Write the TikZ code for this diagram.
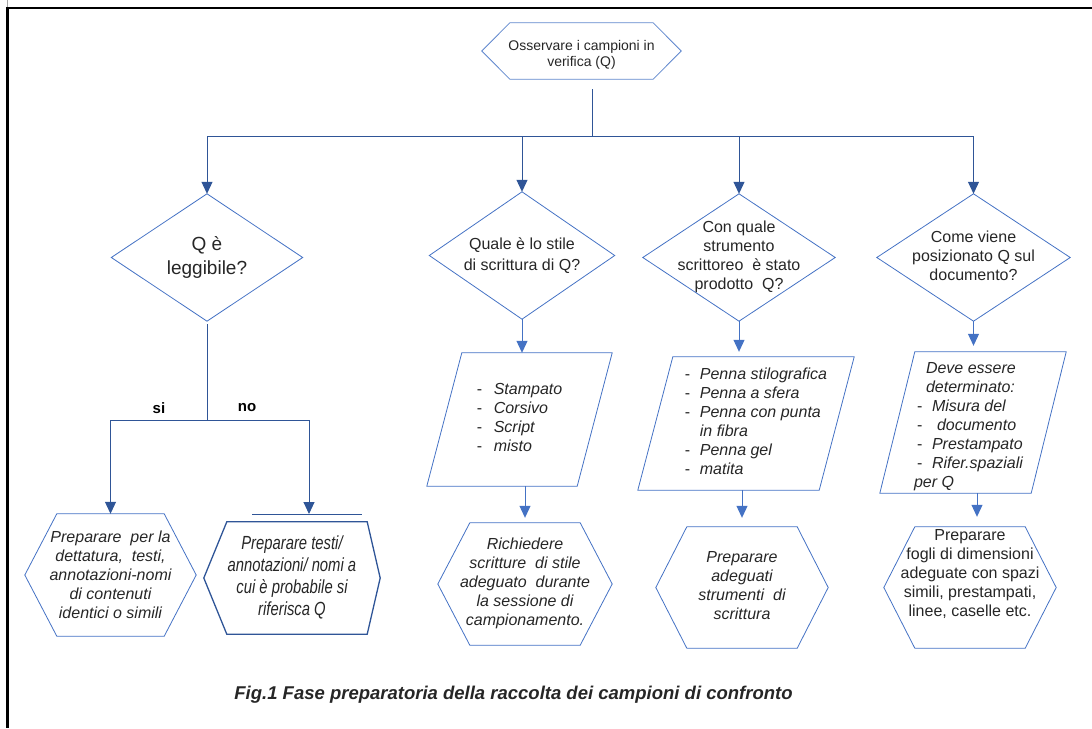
\documentclass[tikz,border=0pt]{standalone}
\usepackage{fontspec}
\setmainfont{Liberation Sans}
\newfontfamily\narrowfont[FakeStretch=0.78]{Liberation Sans}
\usetikzlibrary{arrows.meta}
\definecolor{lineblue}{HTML}{4472C4}
\definecolor{darkblue}{HTML}{2F5597}
\definecolor{ink}{HTML}{262626}
% multi-line text block, column alignment as optional argument
\newcommand\rows[2][c]{\begin{tabular}{@{}#1@{}}#2\end{tabular}}
% list entry introduced by a hyphen
\newcommand\dashitem[2][15pt]{\makebox[#1][l]{\upshape -}#2}

\begin{document}
\begin{tikzpicture}[x=1pt,y=-1pt,
  sz/.style 2 args={rectangle, inner sep=0pt, minimum width=#1, minimum height=#2, text=ink},
  qfont/.style={font=\fontsize{16}{19}\selectfont},
  ifont/.style={font=\fontsize{16}{19}\selectfont\itshape},
  outline/.style={draw=lineblue, line width=0.8pt, line join=miter},
  dkline/.style={draw=darkblue, line width=1pt},
  ltline/.style={draw=lineblue, line width=1pt},
  arr/.style={-{Triangle[width=11pt,length=12pt]}},
  yn/.style={font=\bfseries\fontsize{15}{18}\selectfont, text=black, inner sep=0pt}
]
\useasboundingbox (0,0) rectangle (1092,728);

% frame of the figure
\draw[line width=2.6pt] (6,8) -- (1092,8);
\draw[line width=3pt] (7,8) -- (7,728);
\draw[gray!70, line width=0.6pt] (7.5,0) -- (7.5,7);

% start
\node[sz={199pt}{56pt}, font=\fontsize{14}{16.5}\selectfont] (T) at (581.5,51)
  {\rows{\rule{0pt}{19.5pt}Osservare i campioni in\\verifica (Q)}};

% questions
\node[sz={191pt}{127pt}, font=\fontsize{19}{24}\selectfont] (D1) at (207,257.5)
  {\rows{Q è\\leggibile?}};
\node[sz={185pt}{127pt}, font=\fontsize{16}{21}\selectfont] (D2) at (522,255.5)
  {\rows{Quale è lo stile\\di scrittura di Q?}};
\node[sz={192pt}{127pt}, qfont] (D3) at (739,257.5)
  {\rows{Con quale\\strumento\\scrittoreo~ è stato\\prodotto~ Q?}};
\node[sz={193pt}{127pt}, qfont] (D4) at (973.5,257.5)
  {\rows{Come viene\\posizionato Q sul\\documento?}};

% answers
\node[sz={185pt}{133pt}, ifont] (P2) at (519.5,419.5)
  {\rows[l]{\dashitem[17pt]{Stampato}\\\dashitem[17pt]{Corsivo}\\\dashitem[17pt]{Script}\\\dashitem[17pt]{misto}}};
\node[sz={216pt}{133pt}, ifont] (P3) at (746,423.5)
  {\hspace*{20pt}\rows[l]{\dashitem{Penna stilografica}\\\dashitem{Penna a sfera}\\\dashitem{Penna con punta}\\\hspace*{15pt}in fibra\\\dashitem{Penna gel}\\\dashitem{matita}}};
\node[sz={186pt}{133pt}, ifont] (P4) at (973,422.5)
  {\rows[l]{\rule{0pt}{21.3pt}\hspace*{12pt}Deve essere\\\hspace*{12pt}determinato:\\\hspace*{3pt}\dashitem{Misura del}\\\hspace*{3pt}\dashitem[20pt]{documento}\\\hspace*{3pt}\dashitem{Prestampato}\\\hspace*{3pt}\dashitem{Rifer.spaziali}\\per Q}\hspace*{9pt}};

% preparations
\node[sz={171pt}{122pt}, ifont] (H1) at (110.5,575)
  {\rows{\rule{0pt}{17pt}Preparare~ per la\\dettatura,~ testi,\\annotazioni-nomi\\di contenuti\\identici o simili}};
\node[sz={176pt}{112pt}, font=\narrowfont\fontsize{19}{22}\selectfont\itshape] (H2) at (292,578)
  {\rows{Preparare testi/\\annotazioni/ nomi a\\cui è probabile si\\riferisca Q}};
\node[sz={174pt}{122pt}, ifont] (H3) at (525,584)
  {\rows{Richiedere\\scritture~ di stile\\adeguato~ durante\\la sessione di\\campionamento.}};
\node[sz={172pt}{121pt}, ifont] (H4) at (742,587.5)
  {\rows{Preparare\\adeguati\\strumenti~ di\\scrittura}};
\node[sz={172pt}{121pt}, qfont] (H5) at (970,587.5)
  {\rows{Preparare\\fogli di dimensioni\\adeguate con spazi\\simili, prestampati,\\linee, caselle etc.\\[25pt]}};

\node[yn] (si) at (159,408) {si};
\node[yn] (no) at (247,408) {no};

\node[font=\bfseries\itshape\fontsize{18.5}{22}\selectfont, text=ink, inner sep=0pt] (cap) at (513.5,695)
  {Fig.1 Fase preparatoria della raccolta dei campioni di confronto};

% outlines
\draw[outline, draw=lineblue!85!white] ([xshift=28pt]T.north west) -- ([xshift=-28pt]T.north east) -- (T.east)
  -- ([xshift=-28pt]T.south east) -- ([xshift=28pt]T.south west) -- (T.west) -- cycle;
\foreach \nm in {D1,D2,D3,D4}
  \draw[outline] (\nm.north) -- (\nm.east) -- (\nm.south) -- (\nm.west) -- cycle;
\foreach \nm in {P2,P3,P4}
  \draw[outline] ([xshift=35pt]\nm.north west) -- (\nm.north east) -- ([xshift=-35pt]\nm.south east) -- (\nm.south west) -- cycle;
\foreach \nm/\ins in {H1/32,H3/32,H4/31,H5/31}
  \draw[outline] ([xshift=\ins pt]\nm.north west) -- ([xshift=-\ins pt]\nm.north east) -- (\nm.east)
    -- ([xshift=-\ins pt]\nm.south east) -- ([xshift=\ins pt]\nm.south west) -- (\nm.west) -- cycle;
\draw[outline, draw=darkblue, line width=1.3pt] ([xshift=23pt]H2.north west) -- ([xshift=-13pt]H2.north east) -- (H2.east)
  -- ([xshift=-13pt]H2.south east) -- ([xshift=23pt]H2.south west) -- (H2.west) -- cycle;
\draw[dkline] (252,514) -- (362,514);

% connectors
\coordinate (busTop) at (592,89);
\coordinate (bus) at (592,136);
\draw[dkline] (busTop) -- (bus);
\foreach \nm in {D1,D2,D3,D4}
  \draw[dkline, arr] (bus) -| (\nm.north);

\coordinate (split) at (207,420);
\coordinate (h2in) at (309,514);
\draw[dkline] ([yshift=-3pt]D1.south) -- (split);
\draw[dkline, arr] (split) -| (H1.north);
\draw[dkline, arr] (split) -| (h2in);

\draw[ltline, arr] (D2.south) -- (D2.south |- P2.north);
\draw[ltline, arr, shorten >=5pt] (H3.north |- P2.south) -- (H3.north);
\draw[ltline, arr, shorten >=5pt] (D3.south) -- (D3.south |- P3.north);
\draw[ltline, arr, shorten >=9pt] (H4.north |- P3.south) -- (H4.north);
\draw[ltline, arr, shorten >=6pt] (D4.south) -- (D4.south |- P4.north);
\coordinate (h5in) at ([xshift=7pt]H5.north);
\draw[ltline, arr, shorten >=10pt] (h5in |- P4.south) -- (h5in);
\end{tikzpicture}
\end{document}
